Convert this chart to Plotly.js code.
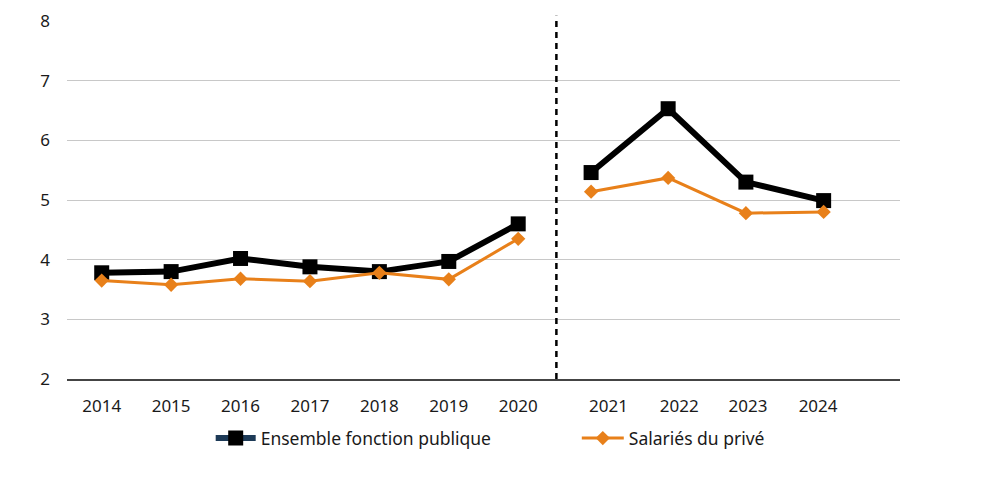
<!DOCTYPE html>
<html><head><meta charset="utf-8">
<script src="https://cdn.plot.ly/plotly-3.0.1.min.js"></script>
<style>html,body{margin:0;padding:0;background:#fff}#chart{width:1006px;height:477px}</style>
</head><body><div id="chart"></div>
<script>
// Data
const years = ["2014","2015","2016","2017","2018","2019","2020","2021","2022","2023","2024"];
const xPoints = [0,1,2,3,4,5,6,7.05,8.16,9.28,10.4];
const xLabelPos = [0,1,2,3,4,5,6,7.3,8.32,9.31,10.32];
const fonctionPublique = [3.78,3.80,4.02,3.88,3.80,3.97,4.60,5.46,6.53,5.30,4.99];
const salariesPrive = [3.65,3.58,3.68,3.64,3.78,3.67,4.35,5.14,5.37,4.78,4.80];
const breakAfter = 6; // series interrupted between 2020 and 2021

function withGap(xs, ys){
  const X=[],Y=[];
  xs.forEach((x,i)=>{X.push(x);Y.push(ys[i]); if(i===breakAfter){X.push((xs[i]+xs[i+1])/2);Y.push(null);} });
  return {X,Y};
}
const a = withGap(xPoints, fonctionPublique);
const b = withGap(xPoints, salariesPrive);
const orange = '#E8801A';
const traces = [
  {x:a.X,y:a.Y,type:'scatter',mode:'lines+markers',name:'Ensemble fonction publique',showlegend:false,
   line:{color:'#000',width:6},marker:{symbol:'square',size:15,color:'#000'},connectgaps:false},
  {x:b.X,y:b.Y,type:'scatter',mode:'lines+markers',name:'Salariés du privé',showlegend:false,
   line:{color:orange,width:3},marker:{symbol:'diamond',size:11,color:orange},connectgaps:false},
  {x:[null],y:[null],type:'scatter',mode:'lines+markers',name:'Ensemble fonction publique',legend:'legend',
   line:{color:'#1d3a57',width:6},marker:{symbol:'square',size:15,color:'#000'}},
  {x:[null],y:[null],type:'scatter',mode:'lines+markers',name:'Salariés du privé',legend:'legend2',
   line:{color:orange,width:3},marker:{symbol:'diamond',size:11,color:orange}}
];
const fnt = {family:'"Noto Sans", "Open Sans", sans-serif',size:17,color:'#1a1a1a'};
const lfnt = {family:'"Noto Sans", "Open Sans", sans-serif',size:17.5,color:'#1a1a1a'};
const layout = {
  width:1006,height:477,
  margin:{l:67,r:106,t:21,b:98},
  paper_bgcolor:'#fff',plot_bgcolor:'#fff',
  font:fnt,
  xaxis:{range:[-0.5,11.5],tickmode:'array',tickvals:xLabelPos,ticktext:years,showgrid:false,zeroline:false,
    showline:true,linecolor:'#444',linewidth:2,ticks:'',ticklabelstandoff:11,tickfont:fnt,fixedrange:true},
  yaxis:{range:[2,8],dtick:1,tick0:2,showgrid:true,gridcolor:'#c8c8c8',gridwidth:1,zeroline:false,showline:false,
    ticks:'',ticklabelstandoff:16,tickfont:fnt,fixedrange:true},
  shapes:[{type:'line',xref:'x',yref:'paper',x0:6.55,x1:6.55,y0:0,y1:1.015,line:{color:'#000',width:2.5,dash:'6px,5px'}}],
  legend:{orientation:'h',x:0.1725,xanchor:'left',y:-0.115,yanchor:'top',font:lfnt,bgcolor:'rgba(0,0,0,0)',itemwidth:40},
  legend2:{orientation:'h',x:0.612,xanchor:'left',y:-0.115,yanchor:'top',font:lfnt,bgcolor:'rgba(0,0,0,0)',itemwidth:42},
  showlegend:true
};
Plotly.newPlot('chart',traces,layout,{displayModeBar:false,staticPlot:true});
</script></body></html>
